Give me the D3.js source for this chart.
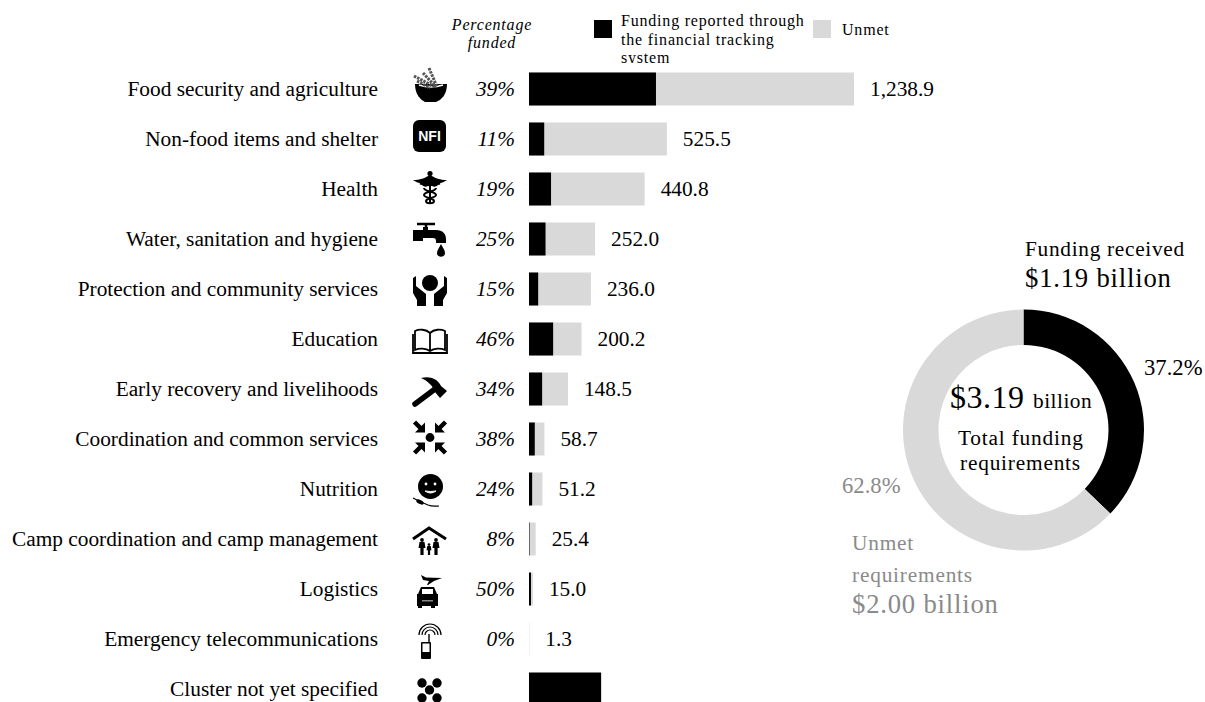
<!DOCTYPE html>
<html>
<head>
<meta charset="utf-8">
<script src="https://cdn.jsdelivr.net/npm/d3@7"></script>
<style>
html, body { margin: 0; padding: 0; background: #fff; overflow: hidden; }
svg { display: block; }
text { font-family: "Liberation Serif", serif; fill: #000; }
</style>
</head>
<body>
<div id="chart"></div>
<script>
const clusters = ["Food security and agriculture", "Non-food items and shelter", "Health",
    "Water, sanitation and hygiene", "Protection and community services", "Education",
    "Early recovery and livelihoods", "Coordination and common services", "Nutrition",
    "Camp coordination and camp management", "Logistics", "Emergency telecommunications",
    "Cluster not yet specified"];
const requirements = [1238.9, 525.5, 440.8, 252.0, 236.0, 200.2, 148.5, 58.7, 51.2, 25.4, 15.0, 1.3, null];
const funded = [484, 58, 84, 63, 35, 92, 50, 22, 12, 2, 7.5, 0, 275];
const percentFunded = ["39%", "11%", "19%", "25%", "15%", "46%", "34%", "38%", "24%", "8%", "50%", "0%", ""];
const iconNames = ["food", "nfi", "health", "wash", "protection", "education", "recovery",
    "coordination", "nutrition", "camp", "logistics", "telecom", "unspecified"];
const donutLabels = ["Funding received", "Unmet"];
const donutShares = [37.2, 62.8];

const BLACK = "#000", GREY = "#d9d9d9", MUTED = "#8a8a8a";

const svg = d3.select("#chart").append("svg").attr("width", 1205).attr("height", 702);

const x = d3.scaleLinear().domain([0, 1238.9]).range([529, 854]);
// paso de 50 px entre filas, barra de 33 px
const y = d3.scaleBand().domain(clusters).range([72.5, 72.5 + 633]).paddingInner(0.34).paddingOuter(0);

// Filas
const rows = svg.selectAll(".row").data(clusters).enter().append("g").attr("class", "row");

rows.append("text").attr("x", 378).attr("y", d => y(d) + y.bandwidth() / 2 + 6.5)
    .attr("text-anchor", "end").style("font-size", "21.33px").text(d => d);

rows.append("text").attr("x", 515).attr("y", d => y(d) + y.bandwidth() / 2 + 6.5)
    .attr("text-anchor", "end").style("font-size", "21.33px").style("font-style", "italic")
    .text((d, i) => percentFunded[i]);

rows.append("rect").attr("x", x(0)).attr("y", d => y(d)).attr("height", y.bandwidth())
    .attr("width", (d, i) => requirements[i] === null ? 0 : x(requirements[i]) - x(0))
    .attr("fill", GREY);

rows.append("rect").attr("x", x(0)).attr("y", d => y(d)).attr("height", y.bandwidth())
    .attr("width", (d, i) => x(funded[i]) - x(0))
    .attr("fill", BLACK);

rows.append("text").attr("x", (d, i) => x(requirements[i]) + 16).attr("y", d => y(d) + y.bandwidth() / 2 + 6.5)
    .style("font-size", "21.33px")
    .text((d, i) => requirements[i] === null ? "" : d3.format(",.1f")(requirements[i]));

// Iconos
const icons = {
    food(g) {
        g.append("path").attr("d", "M-15,-5 C-15,6 -9,11 -5,13 L6,13 C11,11 17,6 17,-5 Z").attr("fill", BLACK);
        g.append("path").attr("d", "M-11,-4 Q1,0 13,-4").attr("fill", "none").attr("stroke", "#fff").attr("stroke-width", 1.6);
        g.append("path").attr("d", "M-16,-13 L5,-2 M-13,-8 L0,-1 M-7,-16 L6,-2 M-1,-21 L7,-2")
            .attr("fill", "none").attr("stroke", "#555").attr("stroke-width", 3).attr("stroke-dasharray", "2.5 1");
    },
    nfi(g) {
        g.append("rect").attr("x", -17).attr("y", -19).attr("width", 33).attr("height", 32).attr("rx", 6).attr("fill", BLACK);
        g.append("text").attr("x", -0.5).attr("y", 2).attr("text-anchor", "middle")
            .style("font-family", "Liberation Sans").style("font-weight", "bold").style("font-size", "14px")
            .style("fill", "#fff").text("NFI");
    },
    health(g) {
        g.append("path").attr("d", "M-17,-9 C-10,-9 -5,-11 -2,-13 L2,-13 C5,-11 10,-9 17,-9 C14,-7 12,-6 10,-6 C11,-5 10,-4 8,-4 C6,-2 4,-2 2,-3 L-2,-3 C-4,-2 -6,-2 -8,-4 C-10,-4 -11,-5 -10,-6 C-12,-6 -14,-7 -17,-9 Z").attr("fill", BLACK);
        g.append("circle").attr("cy", -15.5).attr("r", 2.6).attr("fill", BLACK);
        g.append("path").attr("d", "M0,-13 V15").attr("stroke", BLACK).attr("stroke-width", 2);
        g.append("path").attr("d", "M-6,-1 C-6,3 6,2 6,6 C6,9 -4,9 -4,12 C-4,15 4,15 4,12 C4,9 -6,9 -6,6 C-6,2 6,3 6,-1")
            .attr("fill", "none").attr("stroke", BLACK).attr("stroke-width", 2);
    },
    wash(g) {
        g.append("path").attr("d", "M-17,-9 H-7 V-12 H-2 V-9 H6 C13,-9 16,-5 16,0 V4 H6 V2 C6,0 5,-1 3,-1 H-7 V2 H-17 Z").attr("fill", BLACK);
        g.append("path").attr("d", "M-13,-15 H5 M-4,-15 V-10").attr("stroke", BLACK).attr("stroke-width", 2.5);
        g.append("path").attr("d", "M11,5 C13,9 15,11 15,14 C15,19 7,19 7,14 C7,11 9,9 11,5 Z").attr("fill", BLACK);
    },
    protection(g) {
        g.append("circle").attr("cy", -6).attr("r", 8).attr("fill", BLACK);
        g.append("path").attr("d", "M-17,-11 L-14,-13 V-3 L-4,5 V17 H-13 V11 L-17,4 Z M17,-11 L14,-13 V-3 L4,5 V17 H13 V11 L17,4 Z").attr("fill", BLACK);
    },
    education(g) {
        g.append("path").attr("d", "M0,-6 C-4,-10 -11,-10 -15,-8 V11 C-11,9 -4,9 0,12 C4,9 11,9 15,11 V-8 C11,-10 4,-10 0,-6 Z M0,-6 V12 M-17,-5 V14 H17 V-5")
            .attr("fill", "#fff").attr("stroke", BLACK).attr("stroke-width", 1.8);
    },
    recovery(g) {
        g.append("path").attr("d", "M-9,-11 C2,-14 9,-8 11,-3 L17,2 L10,9 L5,3 C3,-3 -2,-8 -9,-11 Z").attr("fill", BLACK);
        g.append("path").attr("d", "M5,0 L-15,15").attr("stroke", BLACK).attr("stroke-width", 5.5).attr("stroke-linecap", "round");
    },
    coordination(g) {
        g.append("circle").attr("r", 4.4).attr("cy", -1.5).attr("fill", BLACK);
        [[-1, -1], [1, -1], [-1, 1], [1, 1]].forEach(([sx, sy]) => {
            const a = g.append("g").attr("transform", `translate(0,-1.5) scale(${sx},${sy})`);
            a.append("path").attr("d", "M15.5,15.5 L9,9").attr("stroke", BLACK).attr("stroke-width", 4.5);
            a.append("path").attr("d", "M5,5 H15 L5,15 Z").attr("fill", BLACK);
        });
    },
    nutrition(g) {
        g.append("circle").attr("cx", 0.5).attr("cy", -2.5).attr("r", 12.5).attr("fill", BLACK);
        g.append("circle").attr("cx", -4).attr("cy", -5).attr("r", 1.4).attr("fill", "#fff");
        g.append("circle").attr("cx", 5).attr("cy", -5).attr("r", 1.4).attr("fill", "#fff");
        g.append("path").attr("d", "M-5,2 Q0.5,6 6,2 Q0.5,3 -5,2 Z").attr("fill", "#fff").attr("stroke", "#fff");
        g.append("path").attr("d", "M-17,9 L-9,13 L-2,16 C3,18 7,17 9,17").attr("fill", "none").attr("stroke", BLACK).attr("stroke-width", 1.2);
        g.append("ellipse").attr("cx", -10).attr("cy", 13).attr("rx", 4).attr("ry", 2).attr("transform", "rotate(25 -10 13)").attr("fill", BLACK);
    },
    camp(g) {
        g.append("path").attr("d", "M-17,0 L-1,-11 L16,0").attr("fill", "none").attr("stroke", BLACK).attr("stroke-width", 3);
        [[-8, 1, 3], [6, 1, 3], [-1, 0.7, 7]].forEach(([cx, s, dy]) => {
            g.append("g").attr("transform", `translate(${cx},${dy}) scale(${s})`).call(p => {
                p.append("circle").attr("cy", -2).attr("r", 1.9).attr("fill", BLACK);
                p.append("path").attr("d", "M-2.5,0 H2.5 L3.5,6 H1.6 V13 H-1.6 V6 H-3.5 Z").attr("fill", BLACK);
            });
        });
    },
    logistics(g) {
        g.append("path").attr("d", "M-9,-14 L-4,-11.5 L12,-11 L4,-8 L-2,-4 L-3,-4 L-1,-8 L-7,-9 Z").attr("fill", BLACK);
        g.append("path").attr("d", "M-9,-2 H4 L7,5 H8 V17 H5 V19 H1 V17 H-8 V19 H-12 V17 H-13 V5 H-12 Z").attr("fill", BLACK);
        g.append("rect").attr("x", -8).attr("y", 0).attr("width", 11).attr("height", 5).attr("fill", "#fff");
        g.append("rect").attr("x", -8).attr("y", 11).attr("width", 11).attr("height", 1.5).attr("fill", "#888");
    },
    telecom(g) {
        g.append("path").attr("d", "M-11,-4 A11,11 0 0 1 11,-4 M-8,-4 A8,8 0 0 1 8,-4 M-5,-4 A5,5 0 0 1 5,-4")
            .attr("fill", "none").attr("stroke", BLACK).attr("stroke-width", 1.2);
        g.append("path").attr("d", "M-1,-5 V4").attr("stroke", BLACK).attr("stroke-width", 1.4);
        g.append("rect").attr("x", -9).attr("y", 3).attr("width", 10).attr("height", 17).attr("rx", 1).attr("fill", BLACK);
        g.append("rect").attr("x", -7.5).attr("y", 4.5).attr("width", 7).attr("height", 8.5).attr("fill", "#fff");
    },
    unspecified(g) {
        [[-8, -6], [7, -6], [-0.5, 1], [-8, 9], [7, 9]].forEach(([cx, cy]) => {
            g.append("circle").attr("cx", cx).attr("cy", cy).attr("r", 4.7).attr("fill", BLACK);
        });
    }
};

rows.append("g")
    .attr("transform", (d, i) => `translate(430, ${y(d) + y.bandwidth() / 2})`)
    .each(function (d, i) { icons[iconNames[i]](d3.select(this)); });

// Leyenda
const head = svg.append("g").style("letter-spacing", "0.8px");
head.selectAll(".pf").data(["Percentage", "funded"]).enter().append("text")
    .attr("x", 492).attr("y", (d, i) => 29.5 + i * 18).attr("text-anchor", "middle")
    .style("font-size", "16px").style("font-style", "italic").text(d => d);

svg.append("defs").append("clipPath").attr("id", "legendClip")
    .append("rect").attr("x", 600).attr("y", 0).attr("width", 300).attr("height", 63);
const legendText = head.append("g").attr("clip-path", "url(#legendClip)");
legendText.selectAll("text").data(["Funding reported through", "the financial tracking", "system"]).enter().append("text")
    .attr("x", 621).attr("y", (d, i) => 26 + i * 18.5).style("font-size", "16px").text(d => d);
head.append("rect").attr("x", 594).attr("y", 20).attr("width", 18).attr("height", 18).attr("fill", BLACK);
head.append("rect").attr("x", 813).attr("y", 20).attr("width", 18).attr("height", 18).attr("fill", GREY);
head.append("text").attr("x", 842).attr("y", 35).style("font-size", "16px").text(donutLabels[1]);

// Donut
const arc = d3.arc().innerRadius(85).outerRadius(120.5);
const pie = d3.pie().sort(null);
const donut = svg.append("g").attr("transform", "translate(1023.5, 430)");
donut.selectAll("path").data(pie(donutShares)).enter().append("path")
    .attr("d", arc).attr("fill", (d, i) => i === 0 ? BLACK : GREY);

function label(txt, lx, ly, size, color, spacing) {
    svg.append("text").attr("x", lx).attr("y", ly).text(txt)
        .style("font-size", size + "px").style("fill", color).style("letter-spacing", spacing + "px");
}
label("Funding received", 1025, 256, 21.33, BLACK, 0.7);
label("$1.19 billion", 1025, 287, 26.67, BLACK, 0.8);
label("37.2%", 1144, 375, 22.67, BLACK, 0);
label("$3.19", 950, 408, 32, BLACK, 0.5);
label("billion", 1033, 408, 21.33, BLACK, 0.5);
label("Total funding", 958, 445, 21.33, BLACK, 0.8);
label("requirements", 960, 470, 21.33, BLACK, 0.8);
label("62.8%", 842, 493, 22.67, MUTED, 0);
label("Unmet", 852, 550, 21.33, MUTED, 0.8);
label("requirements", 852, 582, 21.33, MUTED, 0.8);
label("$2.00 billion", 852, 613, 26.67, MUTED, 0.8);
</script>
</body>
</html>
